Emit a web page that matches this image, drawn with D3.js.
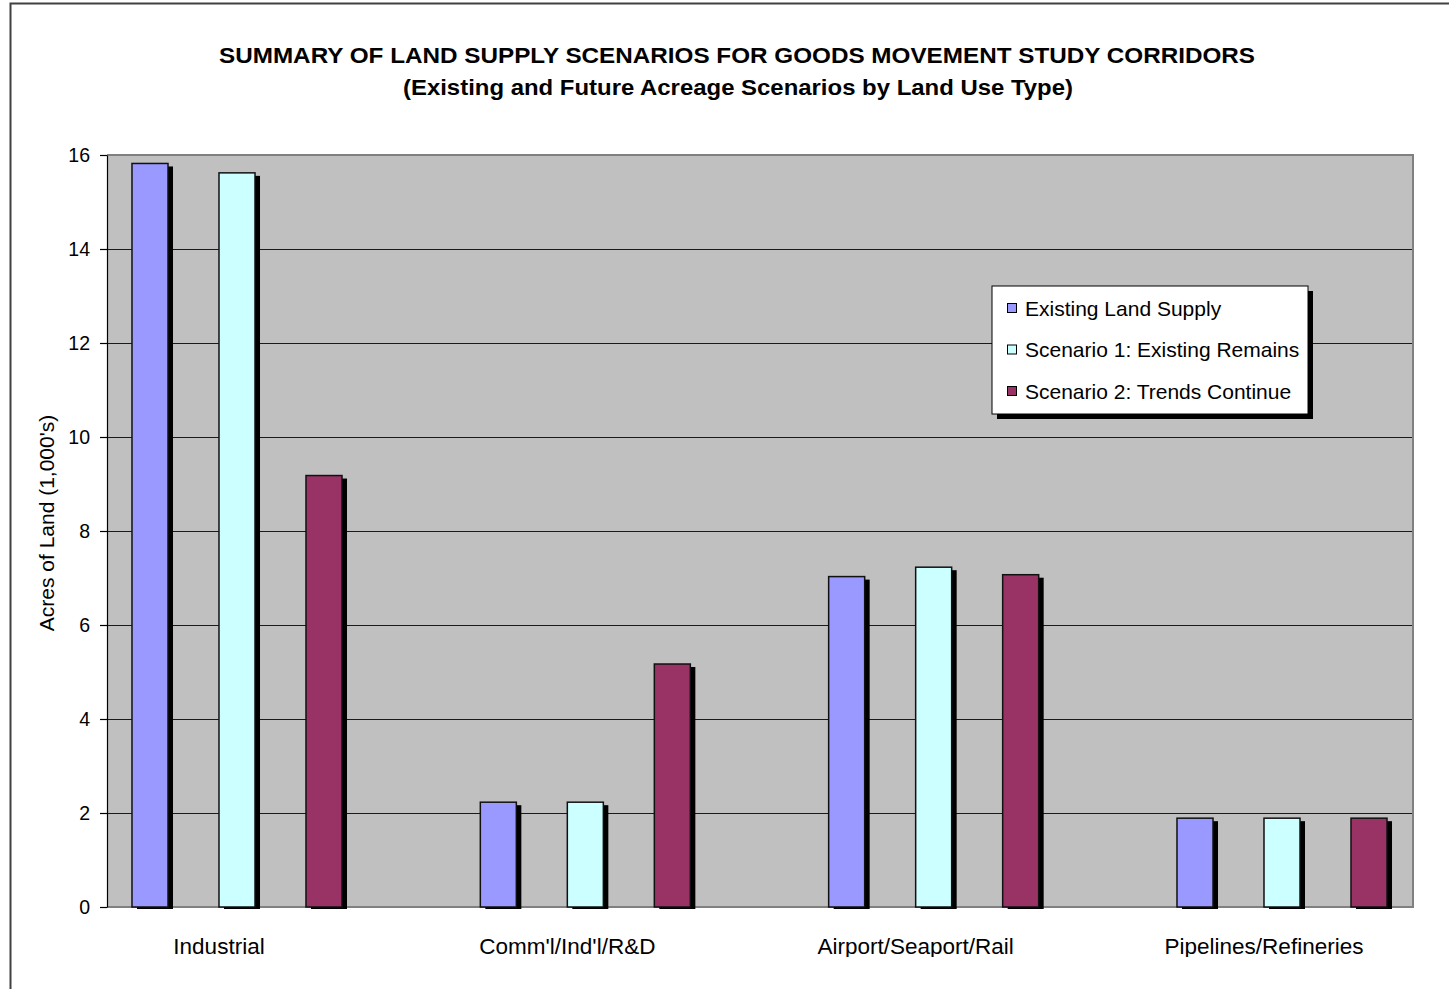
<!DOCTYPE html>
<html>
<head>
<meta charset="utf-8">
<script src="https://cdn.jsdelivr.net/npm/d3@7"></script>
<style>
  html, body { margin: 0; padding: 0; background: #fff; }
  svg { display: block; }
  text { font-family: "Liberation Sans", Arial, sans-serif; fill: #000; }
</style>
</head>
<body>
<script>
// Land use categories along the horizontal axis
const categories = ["Industrial", "Comm'l/Ind'l/R&D", "Airport/Seaport/Rail", "Pipelines/Refineries"];

// Acreage (in thousands) for each scenario, one value per category
const existingSupply   = [15.82, 2.23, 7.03, 1.89];
const scenario1Values  = [15.62, 2.23, 7.23, 1.89];
const scenario2Values  = [9.18, 5.17, 7.07, 1.89];

const seriesNames  = ["Existing Land Supply", "Scenario 1: Existing Remains", "Scenario 2: Trends Continue"];
const seriesColors = ["#9999ff", "#ccffff", "#993366"];
const yTicks = [0, 2, 4, 6, 8, 10, 12, 14, 16];

const series = [existingSupply, scenario1Values, scenario2Values];

const W = 1449, H = 989;
const plot = { left: 107, right: 1413, top: 155, bottom: 907 };

const svg = d3.select("body").append("svg")
  .attr("width", W).attr("height", H);

svg.append("rect").attr("width", W).attr("height", H).attr("fill", "#fff");

// Chart frame (left and top edges)
svg.append("path")
  .attr("d", `M10.5,${H} V3.5 H${W}`)
  .attr("fill", "none").attr("stroke", "#404040").attr("stroke-width", 2);

// Scales
const y = d3.scaleLinear().domain([0, 16]).range([plot.bottom, plot.top]);
const x0 = d3.scalePoint().domain(categories).range([237, 1282]);
const x1 = d3.scaleBand().domain(seriesNames).range([-130.5, 130.5])
  .paddingInner(0.586).paddingOuter(0.293);

// Plot background
svg.append("rect")
  .attr("x", plot.left).attr("y", plot.top)
  .attr("width", plot.right - plot.left).attr("height", plot.bottom - plot.top)
  .attr("fill", "#c0c0c0");

// Horizontal gridlines
svg.append("g").selectAll("line")
  .data(yTicks.filter(t => t > 0 && t < 16))
  .join("line")
  .attr("x1", plot.left).attr("x2", plot.right)
  .attr("y1", d => Math.round(y(d)) + 0.5).attr("y2", d => Math.round(y(d)) + 0.5)
  .attr("stroke", "#1a1a1a").attr("stroke-width", 1.2);

// Plot border: top, right and bottom in gray
svg.append("path")
  .attr("d", `M${plot.left},${plot.top} H${plot.right} V${plot.bottom} H${plot.left}`)
  .attr("fill", "none").attr("stroke", "#808080").attr("stroke-width", 2);

// Bars with drop shadows
const groups = svg.append("g").selectAll("g")
  .data(categories)
  .join("g")
  .attr("transform", d => `translate(${x0(d)},0)`);

groups.each(function(cat, ci) {
  const g = d3.select(this);
  const vals = series.map((s, si) => ({ name: seriesNames[si], color: seriesColors[si], v: s[ci] }));
  g.selectAll("rect.shadow")
    .data(vals).join("rect").attr("class", "shadow")
    .attr("x", d => x1(d.name) + 5)
    .attr("y", d => y(d.v) + 3)
    .attr("width", x1.bandwidth())
    .attr("height", d => y(0) - y(d.v) - 1)
    .attr("fill", "#000");
  g.selectAll("rect.bar")
    .data(vals).join("rect").attr("class", "bar")
    .attr("x", d => x1(d.name))
    .attr("y", d => y(d.v))
    .attr("width", x1.bandwidth())
    .attr("height", d => y(0) - y(d.v))
    .attr("fill", d => d.color)
    .attr("stroke", "#111").attr("stroke-width", 1.5);
});

// Value axis
const yAxis = svg.append("g")
  .attr("transform", `translate(${plot.left},0)`)
  .call(d3.axisLeft(y).tickValues(yTicks).tickSize(7).tickPadding(10).tickSizeOuter(0));
yAxis.select(".domain").attr("stroke", "#000").attr("stroke-width", 1.2);
yAxis.selectAll(".tick line").attr("stroke", "#000").attr("stroke-width", 1.2);
yAxis.selectAll(".tick text")
  .style("font-family", '"Liberation Sans", Arial, sans-serif')
  .style("font-size", "19.5px").attr("fill", "#000");

// Category labels (clipped at the bottom edge)
svg.append("clipPath").attr("id", "catClip")
  .append("rect").attr("x", 0).attr("y", 915).attr("width", W).attr("height", 42);
svg.append("g").attr("clip-path", "url(#catClip)")
  .selectAll("text")
  .data(categories)
  .join("text")
  .attr("x", d => x0(d) - 18)
  .attr("y", 954)
  .attr("text-anchor", "middle")
  .style("font-size", "22.5px")
  .text(d => d);

// Y axis title
svg.append("text")
  .attr("transform", "translate(54,523) rotate(-90)")
  .attr("text-anchor", "middle")
  .style("font-size", "21px")
  .text("Acres of Land (1,000's)");

// Titles
svg.append("text")
  .attr("x", 737).attr("y", 63)
  .attr("text-anchor", "middle")
  .attr("textLength", 1036).attr("lengthAdjust", "spacingAndGlyphs")
  .style("font-size", "21.5px").style("font-weight", "bold")
  .text("SUMMARY OF LAND SUPPLY SCENARIOS FOR GOODS MOVEMENT STUDY CORRIDORS");
svg.append("text")
  .attr("x", 738).attr("y", 95)
  .attr("text-anchor", "middle")
  .attr("textLength", 670).attr("lengthAdjust", "spacingAndGlyphs")
  .style("font-size", "21.5px").style("font-weight", "bold")
  .text("(Existing and Future Acreage Scenarios by Land Use Type)");

// Legend
const lg = svg.append("g").attr("transform", "translate(992,286)");
lg.append("rect").attr("x", 5).attr("y", 5).attr("width", 316).attr("height", 128).attr("fill", "#000");
lg.append("rect").attr("x", 0).attr("y", 0).attr("width", 316).attr("height", 128)
  .attr("fill", "#fff").attr("stroke", "#000").attr("stroke-width", 1);
const items = lg.selectAll("g.item")
  .data(seriesNames)
  .join("g").attr("class", "item")
  .attr("transform", (d, i) => `translate(0,${22 + i * 41.5})`);
items.append("rect")
  .attr("x", 15.5).attr("y", -4.5).attr("width", 9).attr("height", 9)
  .attr("fill", (d, i) => seriesColors[i]).attr("stroke", "#000").attr("stroke-width", 1);
items.append("text")
  .attr("x", 33).attr("y", 7.5)
  .style("font-size", "21px")
  .text(d => d);
</script>
</body>
</html>
